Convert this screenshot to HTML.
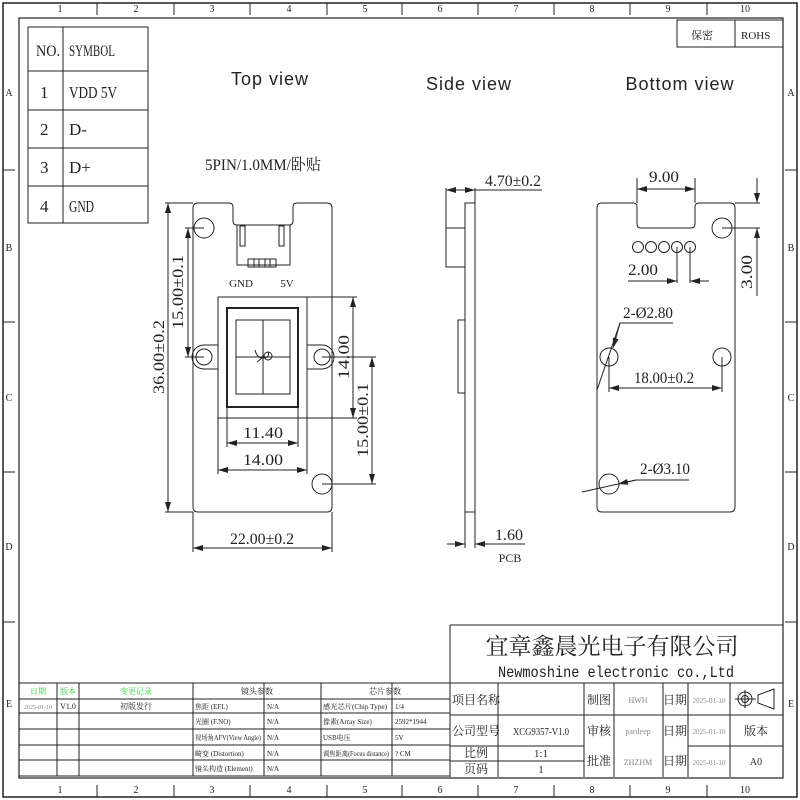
<!DOCTYPE html>
<html><head><meta charset="utf-8"><style>
body{margin:0;background:#fff}
svg{display:block}
text{font-family:"Liberation Serif","Noto Serif CJK SC",serif;fill:#222}
.s{font-family:"Liberation Sans",sans-serif}
</style></head><body>
<svg width="800" height="800" viewBox="0 0 800 800" xmlns="http://www.w3.org/2000/svg">
<defs>
<marker id="a" viewBox="0 0 10 6" refX="10" refY="3" markerWidth="10" markerHeight="6" orient="auto-start-reverse" markerUnits="userSpaceOnUse"><path d="M0,0L10,3L0,6z" fill="#222"/></marker>
</defs>
<g fill="none" stroke="#222" stroke-width="1">
<rect x="3" y="3" width="794" height="794" stroke-width="1.5"/>
<rect x="19" y="18" width="764" height="760" stroke-width="1.2"/>
<path d="M97,3V15M174,3V15M250,3V15M327,3V15M402,3V15M478,3V15M554,3V15M630,3V15M707,3V15"/>
<path d="M97,785V797M174,785V797M250,785V797M327,785V797M402,785V797M478,785V797M554,785V797M630,785V797M707,785V797"/>
<path d="M3,170H15M3,322H15M3,472H15M3,622H15M785,170H797M785,322H797M785,472H797M785,622H797"/>
<rect x="28" y="27" width="120" height="196"/>
<path d="M63,27V223M28,71H148M28,110H148M28,148H148M28,186H148"/>
<rect x="677" y="20" width="106" height="27"/><path d="M735,20V47"/>
<path d="M198,203H229Q233,203 233,207V221Q233,225 237,225H289Q293,225 293,221V207Q293,203 297,203H327Q332,203 332,208V507Q332,512 327,512H198Q193,512 193,507V208Q193,203 198,203Z"/>
<circle cx="204" cy="228" r="10"/>
<circle cx="322" cy="484" r="10"/>
<path d="M218,345H204A12,12 0 0 0 204,369H218"/><circle cx="204" cy="357" r="8"/>
<path d="M307,345H322A12,12 0 0 1 322,369H307"/><circle cx="322" cy="357" r="8"/>
<path d="M237,225V265H290V225"/>
<rect x="240" y="226" width="5" height="20"/><rect x="279" y="226" width="5" height="20"/>
<rect x="248" y="259" width="28" height="8"/><path d="M254,259V267M259,259V267M265,259V267M270,259V267"/>
<rect x="218" y="297" width="89" height="121"/>
<rect x="227" y="308" width="71" height="99" stroke-width="2"/>
<rect x="236" y="320" width="54" height="74"/>
<path d="M263,320V394M236,357H290"/>
<circle cx="268" cy="356" r="4"/>
<path d="M255,350Q257,358 263,358Q270,358 268,352M257,362L262,358"/>
<path d="M168,203V512" marker-start="url(#a)" marker-end="url(#a)"/>
<path d="M165,203H193M165,512H193"/>
<path d="M188,228V357" marker-start="url(#a)" marker-end="url(#a)"/>
<path d="M185,228H204M185,357H204"/>
<path d="M353,297V418" marker-start="url(#a)" marker-end="url(#a)"/>
<path d="M307,297H357M307,418H357"/>
<path d="M372,357V484" marker-start="url(#a)" marker-end="url(#a)"/>
<path d="M322,357H376M322,484H376"/>
<path d="M227,443H298" marker-start="url(#a)" marker-end="url(#a)"/>
<path d="M227,408V447M298,408V447"/>
<path d="M218,470H307" marker-start="url(#a)" marker-end="url(#a)"/>
<path d="M218,418V474M307,418V474"/>
<path d="M193,548H332" marker-start="url(#a)" marker-end="url(#a)"/>
<path d="M193,512V552M332,512V552"/>
<rect x="465" y="203" width="10" height="309"/>
<rect x="446" y="228" width="19" height="39"/>
<rect x="458" y="320" width="7" height="73"/>
<path d="M446,190H475" marker-start="url(#a)" marker-end="url(#a)"/>
<path d="M475,190H542M446,188V228M475,188V203"/>
<path d="M447,544H465" marker-end="url(#a)"/>
<path d="M525,544H475" marker-end="url(#a)"/>
<path d="M465,512V548M475,512V548"/>
<path d="M602,203H633Q637,203 637,207V224Q637,228 641,228H691Q695,228 695,224V207Q695,203 699,203H730Q735,203 735,208V507Q735,512 730,512H602Q597,512 597,507V208Q597,203 602,203Z"/>
<circle cx="722" cy="228" r="10"/>
<circle cx="638" cy="247" r="5.5"/><circle cx="651" cy="247" r="5.5"/><circle cx="664" cy="247" r="5.5"/><circle cx="677" cy="247" r="5.5"/><circle cx="690" cy="247" r="5.5"/>
<circle cx="609" cy="357" r="9"/><circle cx="722" cy="357" r="9"/>
<circle cx="609" cy="484" r="10"/>
<path d="M637,189H695" marker-start="url(#a)" marker-end="url(#a)"/>
<path d="M637,178V203M695,178V203"/>
<path d="M735,203H760M722,228H760"/>
<path d="M757,178V203" marker-end="url(#a)"/><path d="M757,253V228" marker-end="url(#a)"/><path d="M757,228V296"/>
<path d="M677,247V283M690,247V283"/>
<path d="M628,281H677" marker-end="url(#a)"/><path d="M709,281H690" marker-end="url(#a)"/>
<path d="M673,323H620L597,390"/><path d="M620,323L613,348" marker-end="url(#a)"/>
<path d="M609,357V392M722,357V392"/>
<path d="M609,388H722" marker-start="url(#a)" marker-end="url(#a)"/>
<path d="M689,480H636L582,492"/><path d="M636,480L618,484" marker-end="url(#a)"/>
<path d="M450,625H783M450,625V777"/>
<path d="M19,683H783"/>
<path d="M57,683V776M79,683V776M193,683V776M264,683V776M321,683V776M392,683V776"/>
<path d="M19,699H450M19,713H450M19,729H450M19,745H450M19,760H450M19,776H450"/>
<path d="M450,715H783M450,746H584M688,746H783M450,761H584"/>
<path d="M498,683V777M584,683V777M614,683V777M663,683V777M688,683V777M730,683V777"/>
<circle cx="745" cy="699" r="7"/><circle cx="745" cy="699" r="3.5"/><path d="M735,699H756M745,690V708"/>
<path d="M758,695L774,689V709L758,703Z"/>
</g>
<g font-size="10" text-anchor="middle">
<text x="60" y="12">1</text><text x="136" y="12">2</text><text x="212" y="12">3</text><text x="289" y="12">4</text><text x="365" y="12">5</text><text x="440" y="12">6</text><text x="516" y="12">7</text><text x="592" y="12">8</text><text x="668" y="12">9</text><text x="745" y="12">10</text>
<text x="60" y="793">1</text><text x="136" y="793">2</text><text x="212" y="793">3</text><text x="289" y="793">4</text><text x="365" y="793">5</text><text x="440" y="793">6</text><text x="516" y="793">7</text><text x="592" y="793">8</text><text x="668" y="793">9</text><text x="745" y="793">10</text>
<text x="9" y="96">A</text><text x="9" y="251">B</text><text x="9" y="401">C</text><text x="9" y="550">D</text><text x="9" y="707">E</text>
<text x="791" y="96">A</text><text x="791" y="251">B</text><text x="791" y="401">C</text><text x="791" y="550">D</text><text x="791" y="707">E</text>
</g>
<g font-size="17">
<text x="36" y="56" font-size="16" textLength="24" lengthAdjust="spacingAndGlyphs">NO.</text><text x="69" y="56" font-size="16" textLength="46" lengthAdjust="spacingAndGlyphs">SYMBOL</text>
<text x="40" y="98">1</text><text x="69" y="98" textLength="48" lengthAdjust="spacingAndGlyphs">VDD 5V</text>
<text x="40" y="135">2</text><text x="69" y="135">D-</text>
<text x="40" y="173">3</text><text x="69" y="173">D+</text>
<text x="40" y="212">4</text><text x="69" y="212" textLength="25" lengthAdjust="spacingAndGlyphs">GND</text>
</g>
<text x="691" y="39" font-size="11">保密</text><text x="741" y="39" font-size="11">ROHS</text>
<g font-size="18" text-anchor="middle" class="s">
<text class="s" x="270" y="85" style="letter-spacing:1px">Top view</text>
<text class="s" x="469" y="90" style="letter-spacing:1px">Side view</text>
<text class="s" x="680" y="90" style="letter-spacing:1px">Bottom view</text>
</g>
<g font-size="16" text-anchor="middle">
<text x="263" y="170" textLength="116" lengthAdjust="spacingAndGlyphs">5PIN/1.0MM/卧贴</text>
<text x="241" y="287" font-size="11">GND</text><text x="287" y="287" font-size="11">5V</text>
<text transform="translate(164,357) rotate(-90)" textLength="74" lengthAdjust="spacingAndGlyphs">36.00±0.2</text>
<text transform="translate(183,292) rotate(-90)" textLength="74" lengthAdjust="spacingAndGlyphs">15.00±0.1</text>
<text transform="translate(349,357) rotate(-90)" textLength="44" lengthAdjust="spacingAndGlyphs">14.00</text>
<text transform="translate(368,420) rotate(-90)" textLength="74" lengthAdjust="spacingAndGlyphs">15.00±0.1</text>
<text x="263" y="438" textLength="40" lengthAdjust="spacingAndGlyphs">11.40</text>
<text x="263" y="465" textLength="40" lengthAdjust="spacingAndGlyphs">14.00</text>
<text x="262" y="544" textLength="64" lengthAdjust="spacingAndGlyphs">22.00±0.2</text>
<text x="513" y="186" textLength="56" lengthAdjust="spacingAndGlyphs">4.70±0.2</text>
<text x="509" y="540" textLength="28" lengthAdjust="spacingAndGlyphs">1.60</text>
<text x="510" y="562" font-size="12">PCB</text>
<text x="664" y="182" textLength="30" lengthAdjust="spacingAndGlyphs">9.00</text>
<text transform="translate(752,272) rotate(-90)" textLength="34" lengthAdjust="spacingAndGlyphs">3.00</text>
<text x="643" y="275" textLength="30" lengthAdjust="spacingAndGlyphs">2.00</text>
<text x="648" y="318" textLength="50" lengthAdjust="spacingAndGlyphs">2-Ø2.80</text>
<text x="664" y="383" textLength="60" lengthAdjust="spacingAndGlyphs">18.00±0.2</text>
<text x="665" y="474" textLength="50" lengthAdjust="spacingAndGlyphs">2-Ø3.10</text>
</g>
<g text-anchor="middle">
<text x="612" y="654" font-size="23">宜章鑫晨光电子有限公司</text>
<text x="616" y="677" font-size="16" textLength="236" lengthAdjust="spacingAndGlyphs" style="font-family:'Liberation Mono',monospace">Newmoshine electronic co.,Ltd</text>
<text x="476" y="704" font-size="12">项目名称</text>
<text x="476" y="735" font-size="12">公司型号</text>
<text x="541" y="735" font-size="10" textLength="56" lengthAdjust="spacingAndGlyphs">XCG9357-V1.0</text>
<text x="476" y="757" font-size="12">比例</text><text x="541" y="757" font-size="11">1:1</text>
<text x="476" y="773" font-size="12">页码</text><text x="541" y="773" font-size="11">1</text>
<text x="599" y="704" font-size="12">制图</text><text x="599" y="735" font-size="12">审核</text><text x="599" y="765" font-size="12">批准</text>
<text x="638" y="703" font-size="8" style="fill:#888">HWH</text>
<text x="638" y="734" font-size="8" style="fill:#888">pardeep</text>
<text x="638" y="765" font-size="8" style="fill:#888">ZHZHM</text>
<text x="675" y="704" font-size="12">日期</text><text x="675" y="735" font-size="12">日期</text><text x="675" y="765" font-size="12">日期</text>
<text x="709" y="703" font-size="7" style="fill:#888">2025-01-10</text>
<text x="709" y="734" font-size="7" style="fill:#888">2025-01-10</text>
<text x="709" y="765" font-size="7" style="fill:#888">2025-01-10</text>
<text x="756" y="735" font-size="12">版本</text>
<text x="756" y="765" font-size="10">A0</text>
<g font-size="8">
<text x="38" y="694" style="fill:#3c3">日期</text><text x="68" y="694" style="fill:#3c3">版本</text><text x="136" y="694" style="fill:#3c3">变更记录</text>
<text x="257" y="694">镜头参数</text><text x="385" y="694">芯片参数</text>
<text x="38" y="709" font-size="6" style="fill:#888">2025-01-10</text><text x="68" y="709">V1.0</text><text x="136" y="709">初版发行</text>
</g>
</g>
<g font-size="7" lengthAdjust="spacingAndGlyphs">
<text x="195" y="709">焦距 (EFL)</text><text x="267" y="709">N/A</text><text x="323" y="709" textLength="64" lengthAdjust="spacingAndGlyphs">感光芯片(Chip Type)</text><text x="395" y="709">1/4</text>
<text x="195" y="724">光圈 (F.NO)</text><text x="267" y="724">N/A</text><text x="323" y="724">像素(Array Size)</text><text x="395" y="724">2592*1944</text>
<text x="195" y="740" textLength="66" lengthAdjust="spacingAndGlyphs">视场角AFV(View Angle)</text><text x="267" y="740">N/A</text><text x="323" y="740">USB电压</text><text x="395" y="740">5V</text>
<text x="195" y="756">畸变 (Distortion)</text><text x="267" y="756">N/A</text><text x="323" y="756" textLength="66" lengthAdjust="spacingAndGlyphs">调焦距离(Focus distance)</text><text x="395" y="756">? CM</text>
<text x="195" y="771">镜头构造 (Element)</text><text x="267" y="771">N/A</text>
</g>
</svg>
</body></html>
